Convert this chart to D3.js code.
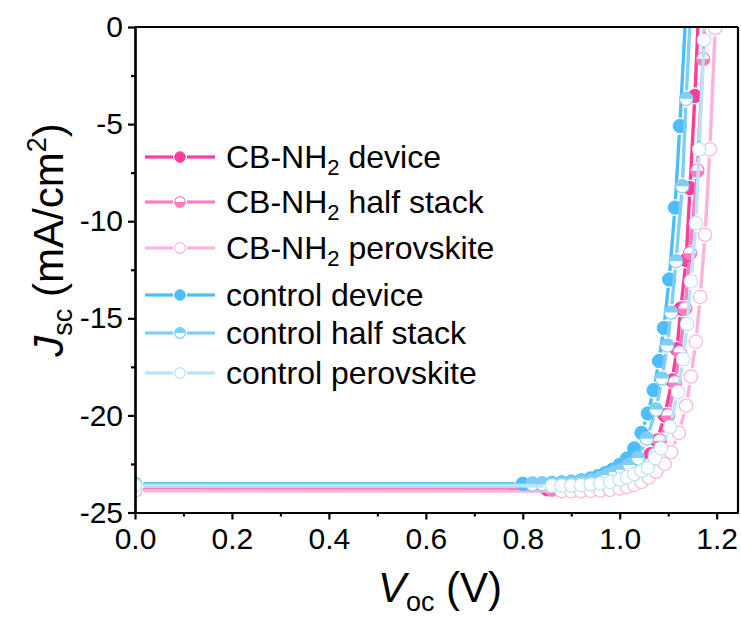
<!DOCTYPE html>
<html>
<head>
<meta charset="utf-8">
<script src="https://cdn.jsdelivr.net/npm/d3@7"></script>
<style>
  html, body { margin: 0; padding: 0; background: #fff; }
  svg { display: block; font-family: Arial, "Liberation Sans", sans-serif; }
</style>
</head>
<body>
<svg id="chart" width="741" height="619"></svg>
<script>
// J-V curves: voltage (V) and current density (mA/cm2) per sample
const seriesNames = ["CB-NH2 device", "CB-NH2 half stack", "CB-NH2 perovskite",
                     "control device", "control half stack", "control perovskite"];

const vCbDevice = [0, 0.85, 0.87, 0.89, 0.91, 0.93, 0.95, 0.97, 0.99, 1.005, 1.02, 1.035, 1.05, 1.064, 1.077, 1.093, 1.108, 1.118, 1.126, 1.137, 1.145, 1.155, 1.164];
const jCbDevice = [-23.80, -23.80, -23.80, -23.79, -23.77, -23.73, -23.66, -23.56, -23.42, -23.28, -23.10, -22.85, -22.50, -22.00, -21.30, -20.00, -18.20, -16.60, -14.50, -12.00, -8.30, -3.55, 1.5];

const vCbHalf = [0, 0.86, 0.88, 0.90, 0.92, 0.94, 0.96, 0.98, 1.00, 1.015, 1.03, 1.045, 1.06, 1.072, 1.083, 1.100, 1.114, 1.124, 1.135, 1.145, 1.160, 1.172, 1.182];
const jCbHalf = [-23.82, -23.82, -23.82, -23.81, -23.79, -23.75, -23.68, -23.58, -23.45, -23.30, -23.12, -22.90, -22.55, -22.00, -21.30, -20.00, -18.30, -16.75, -14.50, -11.65, -7.40, -1.65, 4.0];

const vCbPero = [0, 0.88, 0.90, 0.92, 0.94, 0.96, 0.98, 1.00, 1.015, 1.03, 1.045, 1.06, 1.075, 1.093, 1.106, 1.122, 1.137, 1.147, 1.157, 1.166, 1.176, 1.186, 1.197];
const jCbPero = [-23.88, -23.90, -23.90, -23.90, -23.89, -23.87, -23.83, -23.76, -23.68, -23.58, -23.42, -23.20, -22.90, -22.50, -21.90, -20.90, -19.50, -18.00, -16.20, -13.90, -10.70, -6.30, -0.05];

const vCtDevice = [0, 0.80, 0.82, 0.84, 0.86, 0.88, 0.90, 0.92, 0.94, 0.955, 0.97, 0.985, 1.00, 1.015, 1.03, 1.045, 1.058, 1.07, 1.081, 1.091, 1.102, 1.114, 1.124, 1.136];
const jCtDevice = [-23.52, -23.52, -23.51, -23.50, -23.48, -23.45, -23.41, -23.35, -23.25, -23.13, -22.98, -22.80, -22.55, -22.22, -21.70, -20.90, -19.90, -18.70, -17.20, -15.50, -13.00, -9.30, -5.10, 0.6];

const vCtHalf = [0, 0.82, 0.84, 0.86, 0.88, 0.90, 0.92, 0.94, 0.96, 0.975, 0.99, 1.005, 1.02, 1.038, 1.056, 1.075, 1.087, 1.098, 1.106, 1.116, 1.129, 1.137, 1.146];
const jCtHalf = [-23.55, -23.55, -23.54, -23.53, -23.51, -23.48, -23.43, -23.35, -23.22, -23.08, -22.92, -22.80, -22.55, -22.20, -21.20, -19.70, -18.10, -16.40, -14.70, -12.06, -8.20, -3.70, 0.8];

const vCtPero = [0, 0.86, 0.88, 0.90, 0.92, 0.94, 0.96, 0.98, 1.00, 1.015, 1.03, 1.045, 1.058, 1.073, 1.085, 1.104, 1.120, 1.131, 1.139, 1.147, 1.157, 1.164, 1.174, 1.183];
const jCtPero = [-23.62, -23.62, -23.62, -23.61, -23.59, -23.56, -23.50, -23.42, -23.30, -23.18, -23.02, -22.85, -22.70, -22.20, -21.70, -20.60, -18.80, -17.10, -15.30, -13.10, -10.10, -6.30, -0.67, 4.0];

const xTicks = [0, 0.2, 0.4, 0.6, 0.8, 1.0, 1.2];
const xMinorTicks = [0.1, 0.3, 0.5, 0.7, 0.9, 1.1];
const yTicks = [0, -5, -10, -15, -20, -25];
const yMinorTicks = [-2.5, -7.5, -12.5, -17.5, -22.5];

// styling per series: colour and marker fill mode
const styles = [
  { color: "#ff3d9b", fill: "full" },
  { color: "#ff7dbe", fill: "bottom" },
  { color: "#ffb3da", fill: "none" },
  { color: "#4dbdfb", fill: "full" },
  { color: "#80cdf6", fill: "top" },
  { color: "#b9e3f8", fill: "none" }
];

const series = [
  { name: seriesNames[0], v: vCbDevice, j: jCbDevice, ...styles[0] },
  { name: seriesNames[1], v: vCbHalf, j: jCbHalf, ...styles[1] },
  { name: seriesNames[2], v: vCbPero, j: jCbPero, ...styles[2] },
  { name: seriesNames[3], v: vCtDevice, j: jCtDevice, ...styles[3] },
  { name: seriesNames[4], v: vCtHalf, j: jCtHalf, ...styles[4] },
  { name: seriesNames[5], v: vCtPero, j: jCtPero, ...styles[5] }
];

const svg = d3.select("#chart");
const plotL = 135, plotR = 738, plotT = 27, plotB = 512.5;

const x = d3.scaleLinear().domain([0, 1.244]).range([plotL, plotR]);
const y = d3.scaleLinear().domain([-25, 0]).range([plotB, plotT]);

svg.append("defs").append("clipPath").attr("id", "plotClip")
  .append("rect").attr("x", plotL).attr("y", plotT)
  .attr("width", plotR - plotL).attr("height", plotB - plotT);

const R = 6.7;    // marker radius
const GAP = 8.5;  // line gap around each marker

function drawMarker(g, cx, cy, r, s) {
  const m = g.append("g").attr("transform", `translate(${cx},${cy})`);
  if (s.fill === "full") {
    m.append("circle").attr("r", r).attr("fill", s.color).attr("stroke", s.color).attr("stroke-width", 1);
  } else {
    m.append("circle").attr("r", r).attr("fill", "#fff").attr("stroke", s.color).attr("stroke-width", 1.2);
    if (s.fill === "top") {
      m.append("path").attr("d", `M${-r},0 A${r},${r} 0 0 1 ${r},0 Z`).attr("fill", s.color);
    } else if (s.fill === "bottom") {
      m.append("path").attr("d", `M${-r},0 A${r},${r} 0 0 0 ${r},0 Z`).attr("fill", s.color);
    }
  }
}

const plot = svg.append("g").attr("clip-path", "url(#plotClip)");

series.forEach(s => {
  const g = plot.append("g");
  const pts = s.v.map((v, i) => [x(v), y(s.j[i])]);
  // connecting segments, broken around each symbol
  for (let i = 0; i < pts.length - 1; i++) {
    const [x1, y1] = pts[i], [x2, y2] = pts[i + 1];
    const dx = x2 - x1, dy = y2 - y1, len = Math.hypot(dx, dy);
    if (len <= 2 * GAP) continue;
    const ux = dx / len, uy = dy / len;
    g.append("line")
      .attr("x1", x1 + ux * GAP).attr("y1", y1 + uy * GAP)
      .attr("x2", x2 - ux * GAP).attr("y2", y2 - uy * GAP)
      .attr("stroke", s.color).attr("stroke-width", 3.4);
  }
  pts.forEach(p => drawMarker(g, p[0], p[1], R, s));
});

// axes (hyphen-minus for negative labels)
const axisFont = 30;
const hyphenFmt = d => String(d).replace("\u2212", "-");
svg.append("g").attr("transform", `translate(0,${plotB})`)
  .call(d3.axisBottom(x).tickValues(xTicks).tickFormat(d3.format(".1f")).tickSize(7).tickPadding(8).tickSizeOuter(0));
svg.append("g").attr("transform", `translate(0,${plotB})`)
  .call(d3.axisBottom(x).tickValues(xMinorTicks).tickFormat("").tickSize(4).tickSizeOuter(0));
svg.append("g").attr("transform", `translate(${plotL},0)`)
  .call(d3.axisLeft(y).tickValues(yTicks).tickFormat(hyphenFmt).tickSize(7).tickPadding(5).tickSizeOuter(0));
svg.append("g").attr("transform", `translate(${plotL},0)`)
  .call(d3.axisLeft(y).tickValues(yMinorTicks).tickFormat("").tickSize(4).tickSizeOuter(0));

svg.selectAll(".domain").attr("stroke", "#000").attr("stroke-width", 2.2);
svg.selectAll(".tick line").attr("stroke", "#000").attr("stroke-width", 2.2);
svg.selectAll(".tick text").attr("font-size", axisFont).attr("fill", "#000")
  .attr("font-family", "Arial, 'Liberation Sans', sans-serif");

// frame: top and right edges
svg.append("line").attr("x1", plotL).attr("x2", plotR).attr("y1", plotT).attr("y2", plotT)
  .attr("stroke", "#000").attr("stroke-width", 2.2);
svg.append("line").attr("x1", plotR).attr("x2", plotR).attr("y1", plotT).attr("y2", plotB)
  .attr("stroke", "#000").attr("stroke-width", 2.2);

// axis titles
const titleFont = 42;
const xt = svg.append("text").attr("x", 440).attr("y", 602).attr("text-anchor", "middle")
  .attr("font-size", titleFont).attr("fill", "#000");
xt.append("tspan").attr("font-style", "italic").text("V");
xt.append("tspan").attr("font-size", 27).attr("dy", 9).text("oc");
xt.append("tspan").attr("dy", -9).text(" (V)");

const yt = svg.append("text").attr("transform", "translate(63,240) rotate(-90)")
  .attr("text-anchor", "middle").attr("font-size", titleFont).attr("fill", "#000");
yt.append("tspan").attr("font-style", "italic").text("J");
yt.append("tspan").attr("font-size", 27).attr("dy", 9).text("sc");
yt.append("tspan").attr("dy", -9).text(" (mA/cm");
yt.append("tspan").attr("font-size", 27).attr("dy", -17).text("2");
yt.append("tspan").attr("dy", 17).text(")");

// legend
const legendRows = [157, 202, 248, 295, 333, 373];
const legend = svg.append("g");
series.forEach((s, i) => {
  const cy = legendRows[i];
  const g = legend.append("g");
  g.append("line").attr("x1", 145).attr("x2", 173).attr("y1", cy).attr("y2", cy)
    .attr("stroke", s.color).attr("stroke-width", 3.2);
  g.append("line").attr("x1", 187).attr("x2", 215).attr("y1", cy).attr("y2", cy)
    .attr("stroke", s.color).attr("stroke-width", 3.2);
  drawMarker(g, 180, cy, 5.3, s);
  const t = g.append("text").attr("x", 226).attr("y", cy + 11).attr("font-size", 32).attr("fill", "#000");
  if (s.name.startsWith("CB-NH2")) {
    t.append("tspan").text("CB-NH");
    t.append("tspan").attr("font-size", 22).attr("dy", 7).text("2");
    t.append("tspan").attr("dy", -7).text(s.name.slice(6));
  } else {
    t.text(s.name);
  }
});
</script>
</body>
</html>
